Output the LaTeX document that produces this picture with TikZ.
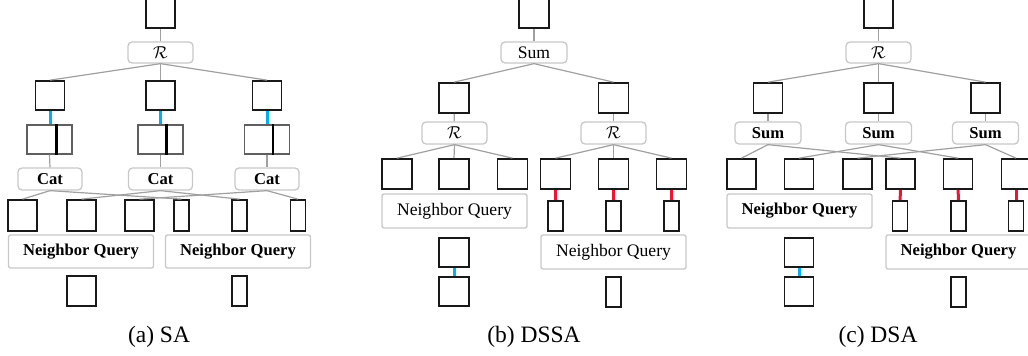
\documentclass[tikz,border=0pt]{standalone}
\usepackage{fontspec}
\setmainfont{Liberation Serif}

\definecolor{skyline}{RGB}{0,176,240}
\definecolor{redline}{RGB}{240,20,50}
\definecolor{wiregray}{RGB}{160,160,160}
\definecolor{opgray}{RGB}{200,200,200}
\definecolor{framegray}{RGB}{95,95,95}

\tikzset{
  feat/.style={draw=black!90,line width=1.7pt,minimum width=29pt,minimum height=29pt,inner sep=0pt},
  slim/.style={draw=black!90,line width=1.7pt,minimum width=15pt,minimum height=30pt,inner sep=0pt},
  catbox/.style={draw=framegray,line width=1.4pt,minimum width=45pt,minimum height=29pt,inner sep=0pt},
  op/.style={draw=opgray,line width=1.3pt,rounded corners=4pt,minimum width=65pt,minimum height=21pt,inner sep=0pt},
  query/.style={draw=opgray,line width=1.3pt,rounded corners=2pt,minimum width=145pt,minimum height=33pt,inner sep=0pt},
  plainfont/.style={font=\fontsize{17.6}{20}\selectfont},
  boldfont/.style={font=\fontsize{16.6}{19}\selectfont\bfseries},
  calfont/.style={font=\fontsize{18}{20}\selectfont},
  caption/.style={font=\fontsize{23.5}{26}\selectfont},
  link/.style={draw=wiregray,line width=1.2pt},
  bluelink/.style={draw=skyline,line width=3pt},
  redlink/.style={draw=redline,line width=3pt},
  divider/.style={draw=black,line width=2.4pt}
}

\begin{document}
\begin{tikzpicture}[x=1pt,y=-1pt]

        \useasboundingbox (0,0) rectangle (1028,356);
        %\draw [help lines,step=20] (0,0) grid (1028,356);

        % (a) SA
        \node[feat] (topA) at (160.5,13.5) {};
        \node[op,calfont] (rA) at (160.5,52.5) {$\mathcal{R}$};

        \node[feat] (a1) at (50,95.5) {};
        \node[feat] (a2) at (160.5,95.5) {};
        \node[feat] (a3) at (267,95.5) {};

        \node[catbox] (ca1) at (49.5,139.5) {};
        \node[catbox] (ca2) at (160.5,139.5) {};
        \node[catbox] (ca3) at (267,139.5) {};
        \draw[divider] ([xshift=30pt]ca1.north west) -- ([xshift=30pt]ca1.south west);
        \draw[divider] ([xshift=29pt]ca2.north west) -- ([xshift=29pt]ca2.south west);
        \draw[divider] ([xshift=29pt]ca3.north west) -- ([xshift=29pt]ca3.south west);

        \node[op,boldfont,minimum width=64pt,minimum height=22pt] (cat1) at (50,179) {Cat};
        \node[op,boldfont,minimum width=64pt,minimum height=22pt] (cat2) at (160.5,179) {Cat};
        \node[op,boldfont,minimum width=64pt,minimum height=22pt] (cat3) at (267,179) {Cat};

        \node[feat,minimum height=31pt] (sa1) at (22.5,215.5) {};
        \node[feat,minimum height=31pt] (sa2) at (81.5,215.5) {};
        \node[feat,minimum height=31pt] (sa3) at (139.5,215.5) {};
        \node[slim,minimum height=31pt] (na1) at (181.5,215.5) {};
        \node[slim,minimum height=31pt] (na2) at (239.5,215.5) {};
        \node[slim,minimum height=31pt] (na3) at (298,215.5) {};

        \node[query,boldfont] (qa1) at (81,251.5) {Neighbor Query};
        \node[query,boldfont] (qa2) at (238,251.5) {Neighbor Query};

        \node[feat,minimum height=30pt] (pa1) at (81.5,291) {};
        \node[slim] (pa2) at (239.5,291) {};

        \node[caption] (capA) at (159,337) {(a) SA};

        \draw[link] (topA) -- (rA);
        \draw[link] (rA.south) -- (a1.north);
        \draw[link] (rA.south) -- (a2.north);
        \draw[link] (rA.south) -- (a3.north);
        \draw[bluelink] (a1.south) -- (a1.south |- ca1.north);
        \draw[bluelink] (a2.south) -- (a2.south |- ca2.north);
        \draw[bluelink] (a3.south) -- (a3.south |- ca3.north);
        \draw[link] (ca1.south) -- (cat1.north);
        \draw[link] (ca2.south) -- (cat2.north);
        \draw[link] (ca3.south) -- (cat3.north);
        \draw[link] (cat1.south) -- (sa1.north);
        \draw[link] (cat1.south) -- (na1.north);
        \draw[link] (cat2.south) -- (sa2.north);
        \draw[link] (cat2.south) -- (na2.north);
        \draw[link] (cat3.south) -- (sa3.north);
        \draw[link] (cat3.south) -- (na3.north);


        % (b) DSSA
        \node[feat,minimum width=30pt] (topB) at (534,13.5) {};
        \node[op,plainfont,minimum width=66pt] (sumB) at (534,52.5) {Sum};

        \node[feat,minimum width=30pt,minimum height=30pt] (b1) at (454,98) {};
        \node[feat,minimum width=30pt,minimum height=30pt] (b2) at (613.5,98) {};

        \node[op,calfont,minimum height=22pt] (rB1) at (454.5,133) {$\mathcal{R}$};
        \node[op,calfont,minimum height=22pt] (rB2) at (613.5,133) {$\mathcal{R}$};

        \node[feat,minimum width=30pt,minimum height=30pt] (sb1) at (397,174) {};
        \node[feat,minimum width=30pt,minimum height=30pt] (sb2) at (454,174) {};
        \node[feat,minimum width=30pt,minimum height=30pt] (sb3) at (512.5,174) {};
        \node[feat,minimum width=30pt,minimum height=30pt] (sb4) at (555.5,174) {};
        \node[feat,minimum width=30pt,minimum height=30pt] (sb5) at (613.5,174) {};
        \node[feat,minimum width=30pt,minimum height=30pt] (sb6) at (671.5,174) {};

        \node[slim] (nb4) at (555.5,216) {};
        \node[slim] (nb5) at (613.5,216) {};
        \node[slim] (nb6) at (671.5,216) {};

        \node[query,plainfont,minimum height=34pt] (qb1) at (454.5,211) {Neighbor Query};
        \node[query,plainfont,minimum height=34pt] (qb2) at (613.5,252) {Neighbor Query};

        \node[feat,minimum width=30pt] (pb1) at (454,252.5) {};
        \node[feat,minimum width=30pt] (pb2) at (454,291.5) {};
        \node[slim] (pb3) at (613.5,292) {};

        \node[caption] (capB) at (534,337) {(b) DSSA};

        \draw[link] (topB) -- (sumB);
        \draw[link] (sumB.south) -- (b1.north);
        \draw[link] (sumB.south) -- (b2.north);
        \draw[link] (b1) -- (rB1);
        \draw[link] (b2) -- (rB2);
        \draw[link] (rB1.south) -- (sb1.north);
        \draw[link] (rB1.south) -- (sb2.north);
        \draw[link] (rB1.south) -- (sb3.north);
        \draw[link] (rB2.south) -- (sb4.north);
        \draw[link] (rB2.south) -- (sb5.north);
        \draw[link] (rB2.south) -- (sb6.north);
        \draw[redlink] (sb4) -- (nb4);
        \draw[redlink] (sb5) -- (nb5);
        \draw[redlink] (sb6) -- (nb6);
        \draw[bluelink] (pb1) -- (pb2);


        % (c) DSA
        \node[feat] (topC) at (878.5,13.5) {};
        \node[op,calfont] (rC) at (878.5,52.5) {$\mathcal{R}$};

        \node[feat,minimum height=30pt] (c1) at (768,98) {};
        \node[feat,minimum height=30pt] (c2) at (878.5,98) {};
        \node[feat,minimum height=30pt] (c3) at (985.5,98) {};

        \node[op,boldfont,minimum width=66pt,minimum height=22pt] (sumC1) at (768,133) {Sum};
        \node[op,boldfont,minimum width=66pt,minimum height=22pt] (sumC2) at (878.5,133) {Sum};
        \node[op,boldfont,minimum width=66pt,minimum height=22pt] (sumC3) at (985.5,133) {Sum};

        \node[feat,minimum height=30pt] (sc1) at (741.5,174) {};
        \node[feat,minimum height=30pt] (sc2) at (799,174) {};
        \node[feat,minimum height=30pt] (sc3) at (857.5,174) {};
        \node[feat,minimum height=30pt] (sc4) at (900.5,174) {};
        \node[feat,minimum height=30pt] (sc5) at (958,174) {};
        \node[feat,minimum height=30pt] (sc6) at (1016,174) {};

        \node[slim] (nc4) at (900,216) {};
        \node[slim] (nc5) at (958.5,216) {};
        \node[slim] (nc6) at (1016,216) {};

        \node[query,boldfont,minimum height=34pt] (qc1) at (799.5,211) {Neighbor Query};
        \node[query,boldfont,minimum height=34pt] (qc2) at (958.5,252) {Neighbor Query};

        \node[feat] (pc1) at (799,252.5) {};
        \node[feat] (pc2) at (799,291.5) {};
        \node[slim] (pc3) at (958.5,292) {};

        \node[caption] (capC) at (878,337) {(c) DSA};

        \draw[link] (topC) -- (rC);
        \draw[link] (rC.south) -- (c1.north);
        \draw[link] (rC.south) -- (c2.north);
        \draw[link] (rC.south) -- (c3.north);
        \draw[link] (c1) -- (sumC1);
        \draw[link] (c2) -- (sumC2);
        \draw[link] (c3) -- (sumC3);
        \draw[link] (sumC1.south) -- (sc1.north);
        \draw[link] (sumC1.south) -- (sc4.north);
        \draw[link] (sumC2.south) -- (sc2.north);
        \draw[link] (sumC2.south) -- (sc5.north);
        \draw[link] (sumC3.south) -- (sc3.north);
        \draw[link] (sumC3.south) -- (sc6.north);
        \draw[redlink] (sc4) -- (nc4);
        \draw[redlink] (sc5) -- (nc5);
        \draw[redlink] (sc6) -- (nc6);
        \draw[bluelink] (pc1) -- (pc2);

\end{tikzpicture}
\end{document}
